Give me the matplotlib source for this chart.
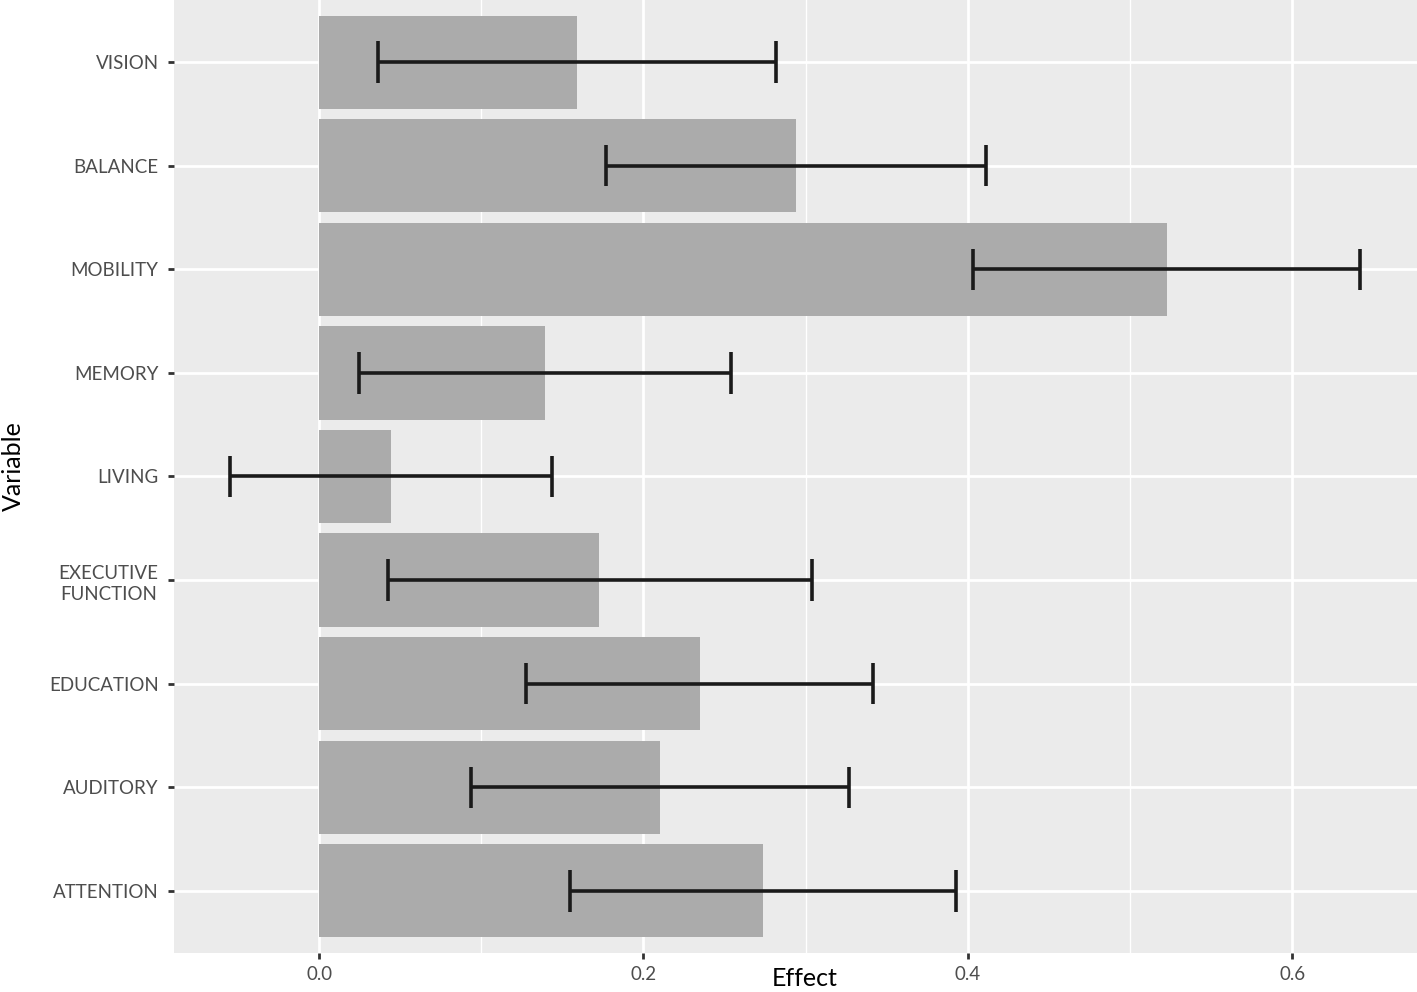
import matplotlib.pyplot as plt
import numpy as np

# values (top to bottom)
variables = ["VISION", "BALANCE", "MOBILITY", "MEMORY", "LIVING",
             "EXECUTIVE\nFUNCTION", "EDUCATION", "AUDITORY", "ATTENTION"]
effect = [0.159, 0.294, 0.523, 0.1395, 0.0444, 0.1728, 0.2346, 0.2105, 0.274]
ci_low = [0.0364, 0.177, 0.403, 0.0247, -0.0549, 0.0426, 0.1278, 0.0938, 0.155]
ci_high = [0.282, 0.411, 0.642, 0.2537, 0.1438, 0.3037, 0.3414, 0.327, 0.393]
x_ticks = [0.0, 0.2, 0.4, 0.6]

plt.rcParams['font.family'] = ['Lato', 'DejaVu Sans']

fig = plt.figure(figsize=(14.17, 9.92), dpi=100)
ax = fig.add_axes([174 / 1417, 39 / 992, 1243 / 1417, 953 / 992])
ax.set_facecolor('#EBEBEB')

n = len(variables)
ypos = np.arange(n)[::-1] + 1  # VISION at top

ax.barh(ypos, effect, height=0.9, color='#ABABAB', zorder=2)
ax.errorbar(effect, ypos,
            xerr=[np.array(effect) - np.array(ci_low), np.array(ci_high) - np.array(effect)],
            fmt='none', ecolor='#1A1A1A', elinewidth=2.6, capsize=0, zorder=3)
# caps drawn as short vertical lines, 0.4 category units high
ax.vlines(ci_low, ypos - 0.2, ypos + 0.2, color='#1A1A1A', lw=2.6, zorder=3)
ax.vlines(ci_high, ypos - 0.2, ypos + 0.2, color='#1A1A1A', lw=2.6, zorder=3)

ax.set_xlim(-0.0895, 0.677)
ax.set_ylim(0.4, n + 0.6)
ax.set_xticks(x_ticks)
ax.set_xticklabels([f"{t:.1f}" for t in x_ticks])
ax.set_xticks([0.1, 0.3, 0.5], minor=True)
ax.set_yticks(ypos)
ax.set_yticklabels(variables, multialignment='center', linespacing=1.35)

ax.grid(which='major', color='white', lw=2.0, zorder=1)
ax.grid(which='minor', axis='x', color='white', lw=1.0, zorder=1)
ax.set_axisbelow(True)
for s in ax.spines.values():
    s.set_visible(False)

ax.tick_params(axis='both', which='major', length=4, width=2, color='#333333',
               labelcolor='#4D4D4D', labelsize=13.5)
ax.tick_params(axis='both', which='minor', length=0)
ax.tick_params(axis='x', pad=5)
ax.tick_params(axis='y', pad=7)

ax.set_xlabel("Effect", fontsize=18, color='black')
ax.xaxis.label.set_va('bottom')
ax.xaxis.set_label_coords(0.507, -0.0388)
ax.set_ylabel("Variable", fontsize=18, color='black')
ax.yaxis.label.set_va('center')
ax.yaxis.set_label_coords(-0.1295, 0.511)

fig.savefig("out.png", dpi=100)
